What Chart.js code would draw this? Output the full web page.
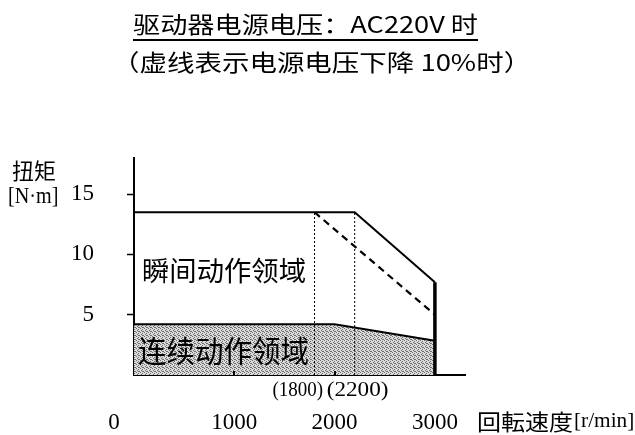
<!DOCTYPE html>
<html>
<head>
<meta charset="utf-8">
<script src="https://cdn.jsdelivr.net/npm/chart.js@4/dist/chart.umd.min.js"></script>
<style>
  body { margin: 0; background: #fff; }
  canvas { display: block; }
</style>
</head>
<body>
<canvas id="chart" width="635" height="435"></canvas>
<script>
// continuous (rated) torque vs speed
const contSpeed = [0, 2000, 3000];
const contTorque = [4.2, 4.2, 2.85];
// momentary peak torque at AC220V
const peakSpeed = [0, 2200, 3000, 3000];
const peakTorque = [13.5, 13.5, 7.7, 0];
// peak torque with supply voltage 10% lower
const lowSpeed = [1800, 3000];
const lowTorque = [13.5, 5.0];
// corner speeds marked under the axis
const cornerSpeeds = [1800, 2200];
const speedTicks = [0, 1000, 2000, 3000];
const torqueTicks = [5, 10, 15];

const SERIF = '"Liberation Serif", "DejaVu Serif", serif';
const CJK = '"Noto Sans CJK SC", "Noto Sans", sans-serif';

function toPoints(xs, ys) {
  return xs.map((x, i) => ({ x: x, y: ys[i] }));
}

// dotted gray texture for the continuous region
function makeStipple() {
  const c = document.createElement('canvas');
  c.width = 4; c.height = 4;
  const g = c.getContext('2d');
  g.fillStyle = '#dadada';
  g.fillRect(0, 0, 4, 4);
  g.fillStyle = '#6e6e6e';
  [[0, 0], [2, 1], [1, 2], [3, 3], [2, 3]].forEach(p => g.fillRect(p[0], p[1], 1, 1));
  return g.createPattern(c, 'repeat');
}

// draw text so its ink spans x0..x1, centred vertically on yc
function fitText(ctx, text, font, x0, x1, yc) {
  ctx.save();
  ctx.font = font;
  ctx.textAlign = 'left';
  ctx.textBaseline = 'alphabetic';
  ctx.fillStyle = '#000';
  const m = ctx.measureText(text);
  const inkW = m.actualBoundingBoxLeft + m.actualBoundingBoxRight;
  const base = yc + (m.actualBoundingBoxAscent - m.actualBoundingBoxDescent) / 2;
  ctx.translate(x0, base);
  ctx.scale((x1 - x0) / inkW, 1);
  ctx.fillText(text, m.actualBoundingBoxLeft, 0);
  ctx.restore();
}

const labelsPlugin = {
  id: 'labels',
  afterDraw(chart) {
    const ctx = chart.ctx;
    const xs = chart.scales.x;
    const area = chart.chartArea;

    // heading
    fitText(ctx, '驱动器电源电压：AC220V 时', '23px ' + CJK, 133, 478, 24);
    ctx.fillStyle = '#000';
    ctx.fillRect(133, 39, 345, 2);
    fitText(ctx, '（虚线表示电源电压下降 10%时）', '23px ' + CJK, 130, 512, 62);

    // region names
    fitText(ctx, '瞬间动作领域', '27px ' + CJK, 143, 305, 270);
    fitText(ctx, '连续动作领域', '30px ' + CJK, 138, 308, 351);

    // axis titles
    fitText(ctx, '扭矩', '22px ' + CJK, 12, 55, 171);
    fitText(ctx, '[N·m]', '23px ' + SERIF, 9, 57, 197);
    fitText(ctx, '回転速度', '22px "Noto Sans CJK JP", ' + CJK, 478, 573, 422);
    fitText(ctx, '[r/min]', '22px ' + SERIF, 575, 633, 422);

    // corner speed labels
    cornerSpeeds.forEach((s, i) => {
      const px = xs.getPixelForValue(s);
      if (i === 0) fitText(ctx, '(' + s + ')', '20px ' + SERIF, px - 42, px + 8, 391);
      else fitText(ctx, '(' + s + ')', '20px ' + SERIF, px - 28, px + 33, 391);
    });

    // short inward ticks on the speed axis
    ctx.fillStyle = '#000';
    speedTicks.forEach(v => {
      if (v === 0 || v === 3000) return;
      const px = Math.round(xs.getPixelForValue(v));
      ctx.fillRect(px - 1, area.bottom - 4, 2, 4);
    });
  }
};

const peakLevel = peakTorque[0];

new Chart(document.getElementById('chart'), {
  type: 'line',
  data: {
    datasets: [
      {
        data: toPoints(contSpeed, contTorque),
        fill: 'origin',
        backgroundColor: makeStipple(),
        borderColor: '#000',
        borderWidth: 2,
        order: 5
      },
      ...cornerSpeeds.map(s => ({
        data: toPoints([s, s], [0, peakLevel]),
        borderColor: '#000',
        borderWidth: 1,
        borderDash: [2, 2],
        fill: false,
        order: 4
      })),
      {
        data: toPoints(lowSpeed, lowTorque),
        borderColor: '#000',
        borderWidth: 2.2,
        borderDash: [7, 5],
        fill: false,
        order: 2
      },
      {
        data: toPoints(peakSpeed, peakTorque),
        borderColor: '#000',
        borderWidth: 2,
        segment: {
          borderWidth: c => (c.p0.parsed.x === c.p1.parsed.x ? 3.5 : 2)
        },
        fill: false,
        order: 1
      }
    ]
  },
  options: {
    responsive: false,
    animation: false,
    events: [],
    layout: { padding: { left: 0, right: 170, top: 158, bottom: 0 } },
    elements: { point: { radius: 0 }, line: { tension: 0 } },
    plugins: { legend: { display: false }, tooltip: { enabled: false } },
    scales: {
      x: {
        type: 'linear',
        min: 0,
        max: 3300,
        afterFit: s => { s.height = 60; },
        afterBuildTicks: s => { s.ticks = speedTicks.map(v => ({ value: v })); },
        border: { display: true, color: '#000', width: 2 },
        grid: { drawOnChartArea: false, drawTicks: false },
        ticks: {
          color: '#000',
          padding: 34,
          maxRotation: 0,
          autoSkip: false,
          font: { family: SERIF, size: 23 },
          callback: v => (v === 0 ? '0' + ' '.repeat(7) : String(v))
        }
      },
      y: {
        type: 'linear',
        min: 0,
        max: 18,
        afterFit: s => { s.width = 134; },
        afterBuildTicks: s => { s.ticks = torqueTicks.map(v => ({ value: v })); },
        border: { display: true, color: '#000', width: 2 },
        grid: { drawOnChartArea: false, drawTicks: true, tickLength: 7, tickWidth: 1.5, color: '#000' },
        ticks: {
          color: '#000',
          padding: 33,
          autoSkip: false,
          font: { family: SERIF, size: 23 }
        }
      }
    }
  },
  plugins: [labelsPlugin]
});
</script>
</body>
</html>
